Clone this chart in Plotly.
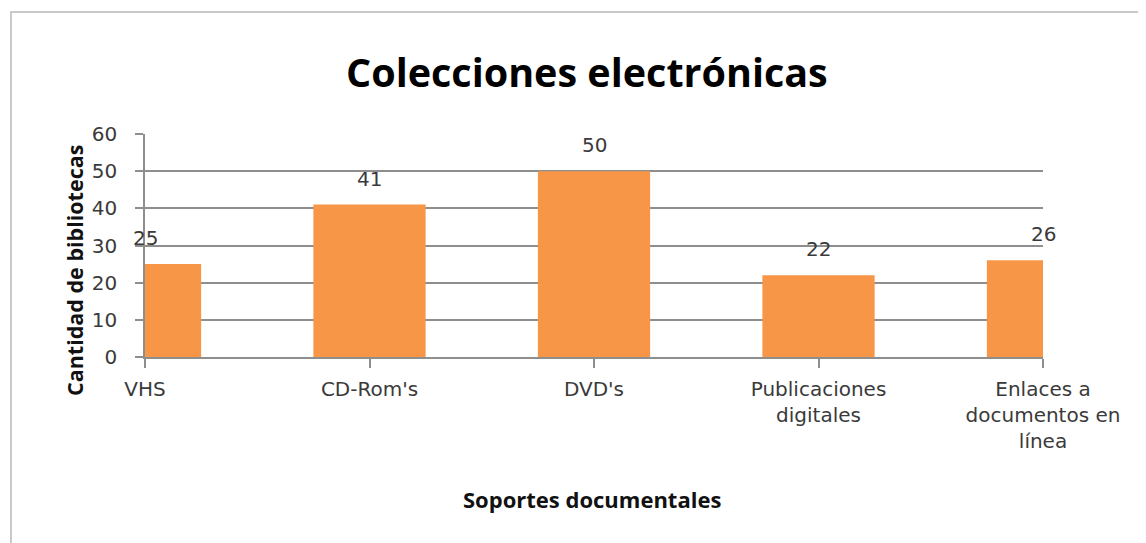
import plotly.graph_objects as go

categories = ["VHS", "CD-Rom's", "DVD's", "Publicaciones<br>digitales", "Enlaces a<br>documentos en<br>línea"]
values = [25, 41, 50, 22, 26]
y_ticks = [0, 10, 20, 30, 40, 50, 60]

BAR_COLOR = "#F79646"
GRID = "#8e8e8e"
TXT = "#3a3a3a"

OFF = 8  # default page body margin
W, H = 1146 - OFF, 543 - OFF
L, T = 145 - OFF, 134 - OFF
R = W - (1043 - OFF)
B = H - (357 - OFF)
pw, ph = W - L - R, H - T - B


def px(xr):
    return (xr - OFF - L) / pw


def py(yr):
    return (H - B - (yr - OFF)) / ph


fig = go.Figure()
fig.add_trace(go.Bar(
    x=categories, y=values, width=0.5,
    marker=dict(color=BAR_COLOR, line=dict(width=0)),
    hoverinfo="skip", showlegend=False,
))

annotations = []
for c, v in zip(categories, values):
    annotations.append(dict(
        x=c, y=v, xref="x", yref="y", text=str(v), showarrow=False,
        yanchor="bottom", xanchor="center", yshift=12,
        font=dict(family="DejaVu Sans", size=20, color=TXT),
    ))

annotations.append(dict(
    x=px(74), y=py(271), xref="paper", yref="paper",
    text="Cantidad de bibliotecas", textangle=-90, showarrow=False,
    xanchor="center", yanchor="middle",
    font=dict(family="Open Sans", size=21.5, color="#111111", weight="bold"),
))
annotations.append(dict(
    x=px(592), y=py(499), xref="paper", yref="paper",
    text="Soportes documentales", showarrow=False,
    xanchor="center", yanchor="middle",
    font=dict(family="Open Sans", size=22, color="#111111", weight="bold"),
))
annotations.append(dict(
    x=px(587), y=py(72), xref="paper", yref="paper",
    text="Colecciones electrónicas", showarrow=False,
    xanchor="center", yanchor="middle",
    font=dict(family="Open Sans", size=39.5, color="#000000", weight="bold"),
))

shapes = [dict(
    type="rect", xref="paper", yref="paper",
    x0=px(11), x1=px(1146 + 30),
    y0=py(543 + 30), y1=py(12),
    line=dict(color="#c9c9c9", width=2), fillcolor="rgba(0,0,0,0)", layer="below",
)]

fig.update_layout(
    width=W, height=H,
    margin=dict(l=L, r=R, t=T, b=B, pad=0),
    paper_bgcolor="white", plot_bgcolor="white",
    annotations=annotations, shapes=shapes,
    bargap=0.5,
    xaxis=dict(
        type="category", range=[0, 4], showgrid=False,
        showline=True, linecolor=GRID, linewidth=1.5,
        ticks="outside", ticklen=9, tickcolor=GRID, tickwidth=1.5,
        tickfont=dict(family="DejaVu Sans", size=20, color=TXT),
        ticklabelstandoff=4,
        fixedrange=True,
    ),
    yaxis=dict(
        range=[0, 60], tickvals=y_ticks, showgrid=True, gridcolor=GRID, gridwidth=1.5,
        showline=True, linecolor=GRID, linewidth=1.5, zeroline=False,
        ticks="outside", ticklen=8, tickcolor=GRID, tickwidth=1.5,
        tickfont=dict(family="DejaVu Sans", size=20, color=TXT),
        ticklabelstandoff=14,
        fixedrange=True,
    ),
)

fig.write_html("out.html")
